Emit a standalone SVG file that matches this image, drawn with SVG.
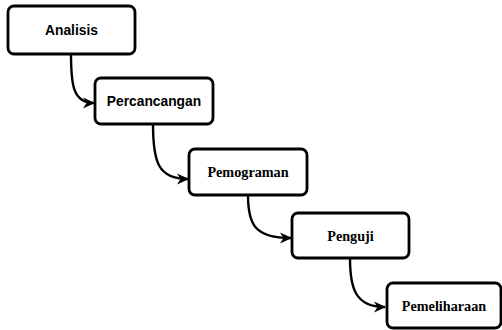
<svg xmlns="http://www.w3.org/2000/svg" width="502" height="330" viewBox="0 0 502 330">
  <style>
    .box { fill: #ffffff; stroke: #000000; stroke-width: 2.8; }
    .sans { font-family: "Liberation Sans", Arial, sans-serif; font-weight: bold; font-size: 13.8px; text-anchor: middle; dominant-baseline: central; }
    .serif { font-family: "Liberation Serif", "Times New Roman", serif; font-weight: bold; font-size: 14.2px; text-anchor: middle; dominant-baseline: central; }
    .link { fill: none; stroke: #000000; stroke-width: 2.4; marker-end: url(#arrow); }
  </style>
  <defs>
    <marker id="arrow" viewBox="0 0 12 12" refX="11" refY="6" markerWidth="12" markerHeight="12" markerUnits="userSpaceOnUse" orient="auto">
      <path d="M0,0.5 L12,6 L0,11.5 L3.5,6 Z" fill="#000000"/>
    </marker>
  </defs>
  <rect width="502" height="330" fill="#ffffff"/>

  <g id="connectors">
    <path class="link" d="M71,54 C71,85 73,103 94,103"/>
    <path class="link" d="M153,124 C153,162 158,179 188,179"/>
    <path class="link" d="M248,195 C248,225 255,238 291,238"/>
    <path class="link" d="M350,258 C350,288 355,307 385,307"/>
  </g>

  <g id="analisis">
    <rect class="box" x="8" y="6" width="127" height="48" rx="6"/>
    <text class="sans" x="71.5" y="30">Analisis</text>
  </g>
  <g id="percancangan">
    <rect class="box" x="95" y="78" width="118" height="46" rx="6"/>
    <text class="sans" x="154" y="101">Percancangan</text>
  </g>
  <g id="pemograman">
    <rect class="box" x="189" y="149" width="118" height="46" rx="6"/>
    <text class="serif" x="248" y="172">Pemograman</text>
  </g>
  <g id="penguji">
    <rect class="box" x="292" y="213" width="117" height="45" rx="6"/>
    <text class="serif" x="350.5" y="236">Penguji</text>
  </g>
  <g id="pemeliharaan">
    <rect class="box" x="387" y="283" width="114" height="45" rx="6"/>
    <text class="serif" x="444" y="306">Pemeliharaan</text>
  </g>
</svg>
